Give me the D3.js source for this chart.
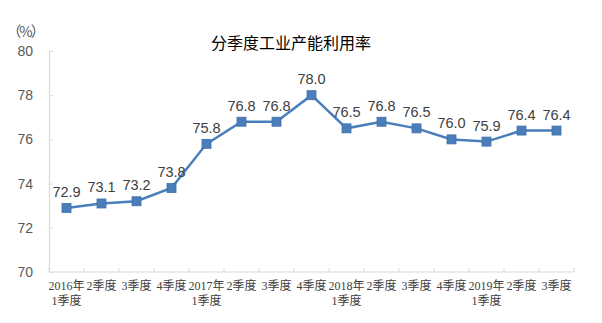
<!DOCTYPE html>
<html>
<head>
<meta charset="utf-8">
<script src="https://cdn.jsdelivr.net/npm/d3@7"></script>
<style>
  html, body { margin: 0; padding: 0; background: #fff; }
  svg { display: block; }
</style>
</head>
<body>
<svg id="chart" width="602" height="323"></svg>
<script>
// Quarterly industrial capacity utilisation (%)
const quarters = [
  ["2016年", "1季度"], ["2季度"], ["3季度"], ["4季度"],
  ["2017年", "1季度"], ["2季度"], ["3季度"], ["4季度"],
  ["2018年", "1季度"], ["2季度"], ["3季度"], ["4季度"],
  ["2019年", "1季度"], ["2季度"], ["3季度"]
];
const utilisation = [72.9, 73.1, 73.2, 73.8, 75.8, 76.8, 76.8, 78.0, 76.5, 76.8, 76.5, 76.0, 75.9, 76.4, 76.4];
const yTicks = [70, 72, 74, 76, 78, 80];
const title = "分季度工业产能利用率";
const unitLabel = "（%）";

(function draw() {
  const svg = d3.select("#chart");
  const plotLeft = 49, plotRight = 574, plotTop = 51, plotBottom = 272;

  const x = d3.scaleBand().domain(d3.range(quarters.length)).range([plotLeft, plotRight]).padding(0);
  const y = d3.scaleLinear().domain([70, 80]).range([plotBottom, plotTop]);
  const cx = i => x(i) + x.bandwidth() / 2;

  const axisColor = "#d9d9d9";

  // Y axis
  const yAxis = svg.append("g").attr("transform", `translate(${plotLeft},0)`)
    .call(d3.axisLeft(y).tickValues(yTicks).tickSize(-4).tickPadding(16).tickFormat(d3.format("d")));
  yAxis.select(".domain").attr("stroke", axisColor).attr("stroke-width", 1.2);
  yAxis.selectAll(".tick line").attr("stroke", axisColor);
  yAxis.selectAll(".tick text")
    .attr("fill", "#595959")
    .style("font-family", "'Liberation Sans', Arial, sans-serif")
    .style("font-size", "14px");

  // X axis with boundary ticks pointing upward
  const xAxisG = svg.append("g");
  xAxisG.append("line")
    .attr("x1", plotLeft).attr("x2", plotRight).attr("y1", plotBottom).attr("y2", plotBottom)
    .attr("stroke", axisColor).attr("stroke-width", 1.2);
  const boundaries = d3.range(quarters.length + 1).map(i => i === quarters.length ? plotRight : x(i));
  xAxisG.selectAll("line.tk").data(boundaries).join("line")
    .attr("class", "tk")
    .attr("x1", d => d).attr("x2", d => d)
    .attr("y1", plotBottom).attr("y2", plotBottom - 4)
    .attr("stroke", axisColor);

  // Category labels (one or two lines)
  const lbl = xAxisG.selectAll("text.cat").data(quarters).join("text")
    .attr("class", "cat")
    .attr("text-anchor", "middle")
    .attr("fill", "#404040")
    .style("font-family", "'Liberation Serif', 'Noto Sans CJK SC', serif")
    .style("font-size", "12px");
  lbl.each(function(d, i) {
    const t = d3.select(this);
    d.forEach((txt, j) => {
      t.append("tspan")
        .attr("x", cx(i))
        .attr("y", 290 + j * 15)
        .text(txt);
    });
  });

  // Line
  const line = d3.line()
    .x((d, i) => cx(i))
    .y(d => y(d));
  svg.append("path")
    .datum(utilisation)
    .attr("fill", "none")
    .attr("stroke", "#4a7ebb")
    .attr("stroke-width", 2.5)
    .attr("d", line);

  // Square markers
  const ms = 9;
  svg.selectAll("rect.pt").data(utilisation).join("rect")
    .attr("class", "pt")
    .attr("x", (d, i) => cx(i) - ms / 2)
    .attr("y", d => y(d) - ms / 2)
    .attr("width", ms).attr("height", ms)
    .attr("fill", "#4a7ebb")
    .attr("stroke", "#3f6fab").attr("stroke-width", 0.8);

  // Value labels
  svg.selectAll("text.val").data(utilisation).join("text")
    .attr("class", "val")
    .attr("x", (d, i) => cx(i))
    .attr("y", d => y(d) - 11)
    .attr("text-anchor", "middle")
    .attr("fill", "#404040")
    .style("font-family", "'Liberation Sans', Arial, sans-serif")
    .style("font-size", "14.5px")
    .text(d => d.toFixed(1));

  // Title
  svg.append("text")
    .attr("x", 291).attr("y", 49)
    .attr("text-anchor", "middle")
    .attr("fill", "#000")
    .style("font-family", "'Noto Sans CJK SC', sans-serif")
    .style("font-size", "16px")
    .text(title);

  // Unit label
  svg.append("text")
    .attr("x", 25).attr("y", 37)
    .attr("text-anchor", "middle")
    .attr("fill", "#595959")
    .style("font-family", "'Noto Sans CJK SC', sans-serif")
    .style("font-size", "14.5px")
    .style("letter-spacing", "-2px")
    .text(unitLabel);
})();
</script>
</body>
</html>
